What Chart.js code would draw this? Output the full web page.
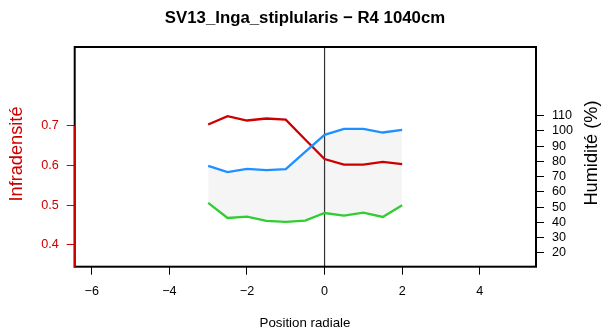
<!DOCTYPE html>
<html>
<head>
<meta charset="utf-8">
<script src="https://cdn.jsdelivr.net/npm/chart.js@4"></script>
<style>
  html, body { margin: 0; padding: 0; background: #fff; }
  #wrap { width: 605px; height: 336px; }
</style>
</head>
<body>
<div id="wrap"><canvas id="myChart" width="605" height="336"></canvas></div>
<script>
// values
var positions = [-3, -2.5, -2, -1.5, -1, -0.5, 0, 0.5, 1, 1.5, 2];
var infradensite = [0.703, 0.724, 0.713, 0.718, 0.715, 0.665, 0.616, 0.602, 0.602, 0.609, 0.603];
var humiditeMax = [77.1, 73.0, 75.1, 74.3, 74.9, 86.3, 97.5, 101.4, 101.4, 99.0, 100.8];
var humiditeMin = [52.7, 42.8, 43.7, 40.9, 40.2, 41.1, 46.1, 44.4, 46.3, 43.5, 51.2];
var xTicks = [-6, -4, -2, 0, 2, 4];
var leftTicks = [0.4, 0.5, 0.6, 0.7];
var rightTicks = [20, 30, 40, 50, 60, 70, 80, 90, 100, 110];

var RED = '#cd0000';
var FONT = '"Liberation Sans", Arial, Helvetica, sans-serif';
var TICK_FONT = { family: FONT, size: 12.6 };

function pts(ys) {
  return positions.map(function (x, i) { return { x: x, y: ys[i] }; });
}
function minus(v) {
  return String(v).replace('-', '\u2212');
}

// frame, zero line and titles
var decor = {
  id: 'decor',
  beforeDatasetsDraw: function (chart) {
    var c = chart.ctx, a = chart.chartArea;
    var x0 = chart.scales.x.getPixelForValue(0);
    c.save();
    c.strokeStyle = '#333';
    c.lineWidth = 1.2;
    c.beginPath();
    c.moveTo(x0, a.top);
    c.lineTo(x0, a.bottom);
    c.stroke();
    c.restore();
  },
  afterDraw: function (chart) {
    var c = chart.ctx, a = chart.chartArea;
    c.save();
    c.strokeStyle = '#000';
    c.lineWidth = 2;
    c.strokeRect(a.left, a.top, a.right - a.left, a.bottom - a.top);
    // red part of the left axis
    var y7 = chart.scales.y.getPixelForValue(0.7);
    c.strokeStyle = RED;
    c.beginPath();
    c.moveTo(a.left, y7);
    c.lineTo(a.left, a.bottom + 1);
    c.stroke();

    c.fillStyle = '#000';
    c.textAlign = 'center';
    c.textBaseline = 'middle';
    c.font = 'bold 16.8px ' + FONT;
    c.fillText('SV13_Inga_stiplularis \u2212 R4 1040cm', 305, 18);
    c.font = '13.3px ' + FONT;
    c.fillText('Position radiale', 305, 323);

    c.font = '18.2px ' + FONT;
    c.save();
    c.translate(17, 154);
    c.rotate(-Math.PI / 2);
    c.fillStyle = RED;
    c.fillText('Infradensit\u00e9', 0, 0);
    c.restore();
    c.save();
    c.translate(592, 153);
    c.rotate(-Math.PI / 2);
    c.fillText('Humidit\u00e9 (%)', 0, 0);
    c.restore();
    c.restore();
  }
};

var ctx = document.getElementById('myChart').getContext('2d');
var chart = new Chart(ctx, {
  type: 'line',
  data: {
    datasets: [{
      label: 'Humidite max',
      data: pts(humiditeMax),
      yAxisID: 'y2',
      borderColor: '#1e90ff',
      borderWidth: 2.3,
      pointRadius: 0,
      fill: false
    }, {
      label: 'Humidite min',
      data: pts(humiditeMin),
      yAxisID: 'y2',
      borderColor: '#32cd32',
      borderWidth: 2.3,
      pointRadius: 0,
      backgroundColor: '#f5f5f5',
      fill: 0
    }, {
      label: 'Infradensite',
      data: pts(infradensite),
      yAxisID: 'y',
      borderColor: RED,
      borderWidth: 2.3,
      pointRadius: 0,
      fill: false
    }]
  },
  options: {
    responsive: false,
    animation: false,
    layout: { padding: { top: 47, left: 0, right: 0, bottom: 0 } },
    plugins: {
      legend: { display: false },
      tooltip: { enabled: false },
      filler: { drawTime: 'beforeDatasetsDraw' }
    },
    scales: {
      x: {
        type: 'linear',
        min: -6.44,
        max: 5.45,
        afterBuildTicks: function (s) { s.ticks = xTicks.map(function (v) { return { value: v }; }); },
        afterFit: function (s) { s.height = 69.3; },
        border: { display: false },
        grid: { drawOnChartArea: false, tickLength: 8, tickColor: '#000', tickWidth: 1 },
        ticks: {
          color: '#000', padding: 9.5, maxRotation: 0,
          font: TICK_FONT,
          callback: function (v) { return minus(v); }
        }
      },
      y: {
        position: 'left',
        min: 0.345,
        max: 0.898,
        afterBuildTicks: function (s) { s.ticks = leftTicks.map(function (v) { return { value: v }; }); },
        afterFit: function (s) { s.width = 74.7; },
        border: { display: false },
        grid: { drawOnChartArea: false, tickLength: 8, tickColor: RED, tickWidth: 1 },
        ticks: {
          color: RED, padding: 8,
          font: TICK_FONT,
          callback: function (v) { return v.toFixed(1); }
        }
      },
      y2: {
        position: 'right',
        min: 10.8,
        max: 155.2,
        afterBuildTicks: function (s) { s.ticks = rightTicks.map(function (v) { return { value: v }; }); },
        afterFit: function (s) { s.width = 69; },
        border: { display: false },
        grid: { drawOnChartArea: false, tickLength: 8, tickColor: '#000', tickWidth: 1 },
        ticks: {
          color: '#000', padding: 8,
          font: TICK_FONT,
          callback: function (v) { return String(v); }
        }
      }
    }
  },
  plugins: [decor]
});
</script>
</body>
</html>
